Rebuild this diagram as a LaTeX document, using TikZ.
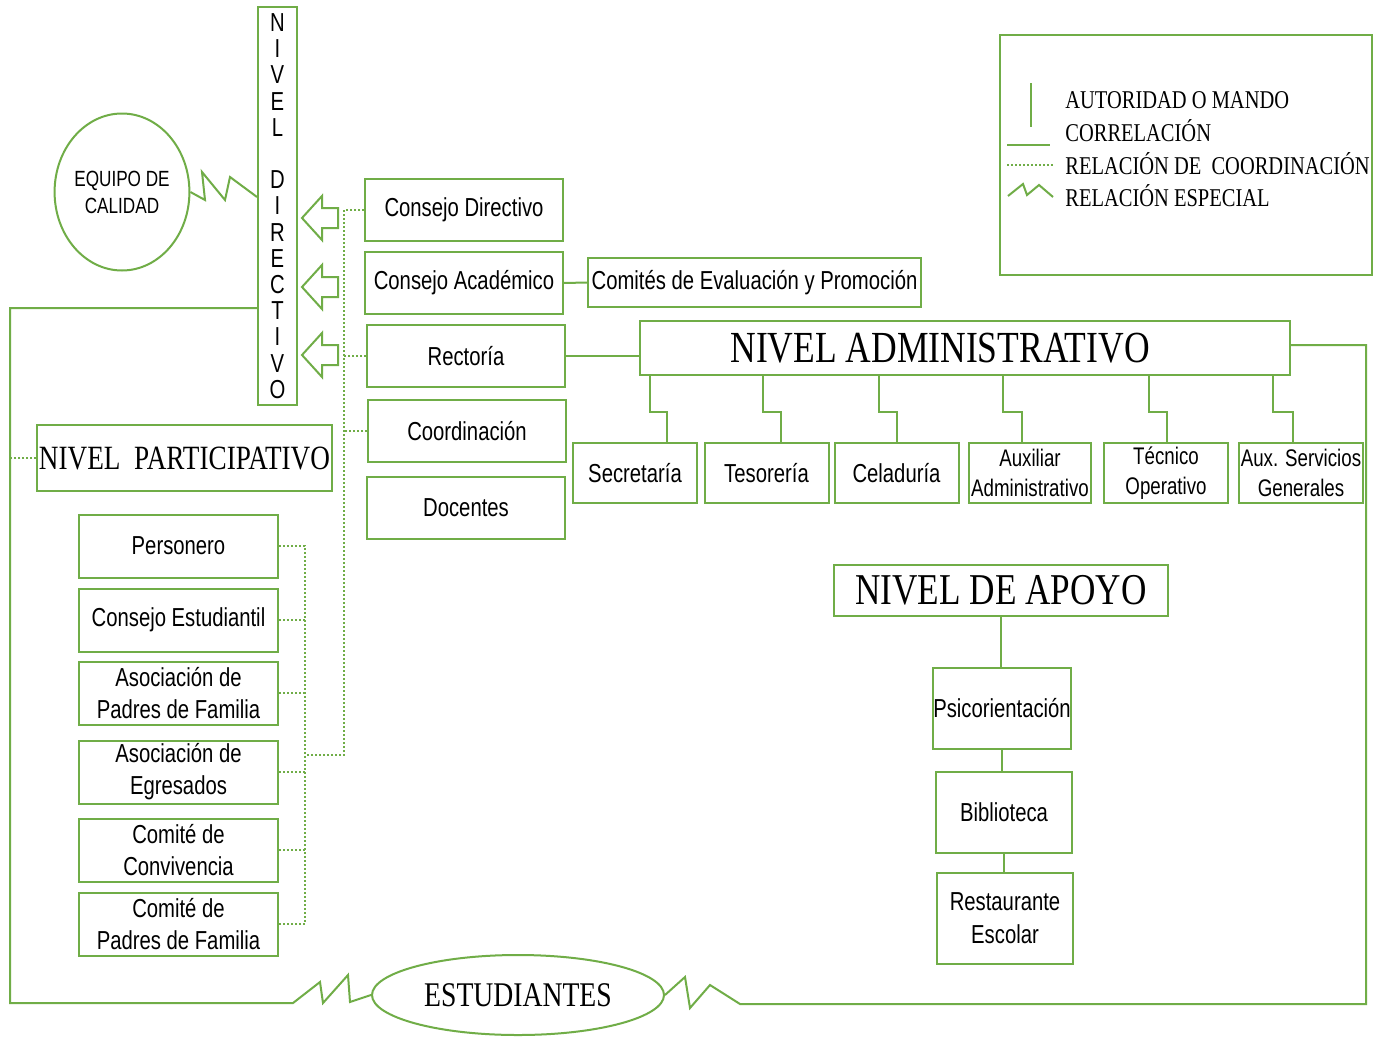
\documentclass[tikz,border=0pt]{standalone}
\usepackage{fontspec}
\setmainfont[FakeStretch=0.78]{Liberation Sans}
\newfontfamily\lvlfont[FakeStretch=0.8]{Liberation Serif}
\usetikzlibrary{shapes.geometric}
\definecolor{verde}{RGB}{112,173,71}

\tikzset{
  caja/.style={draw=verde, line width=1pt, fill=white, align=center, inner sep=1pt, font=\fontsize{13}{16}\selectfont},
  dbox/.style={caja, minimum width=99pt, minimum height=31pt},
  sbox/.style={caja, minimum width=62pt, minimum height=30pt},
  pbox/.style={caja, minimum width=99.5pt, minimum height=31.5pt},
  dos/.style={font=\fontsize{12}{15}\selectfont},
  elip/.style={ellipse, draw=verde, line width=1pt, fill=white, align=center, inner sep=0pt},
  leyenda/.style={anchor=west, inner sep=0pt, font=\lvlfont\fontsize{12.8}{14}\selectfont},
  mando/.style={draw=verde, line width=1pt},
  coord/.style={draw=verde, line width=0.8pt, dash pattern=on 1pt off 1pt},
  hueca/.style={draw=verde, line width=1pt, fill=white}
}

\begin{document}
\begin{tikzpicture}[x=0.5pt,y=-0.5pt]
  \fill[white] (0,0) rectangle (1385,1044);

  \node[caja, minimum width=19.5pt, minimum height=199pt, inner sep=0pt, font=\fontsize{13}{13.1}\selectfont] (dir) at (277.5,206) {N\\I\\V\\E\\L\\[13.1pt]D\\I\\R\\E\\C\\T\\I\\V\\O};
  \node[elip, minimum width=61pt, minimum height=78.5pt, font=\fontsize{11}{13.5}\selectfont] (eq) at (122,192) {EQUIPO DE\\CALIDAD};

  \node[dbox] (cdir) at (464,210) {Consejo Directivo};
  \node[dbox] (cacad) at (464,283) {Consejo Académico};
  \node[dbox] (rect) at (466,356) {Rectoría};
  \node[dbox] (coor) at (467,431) {Coordinación};
  \node[dbox] (doc) at (466,508) {Docentes};
  \node[caja, minimum width=166.5pt, minimum height=24.5pt] (com) at (754.5,282.5) {Comités de Evaluación y Promoción};

  \node[caja, minimum width=325pt, minimum height=27pt, font=\lvlfont\fontsize{22.2}{23}\selectfont] (adm) at (965,348) {NIVEL ADMINISTRATIVO\hspace*{25pt}};
  \node[sbox] (sec) at (635,473) {Secretaría};
  \node[sbox] (tes) at (766.5,473) {Tesorería};
  \node[sbox] (cel) at (896.5,473) {Celaduría};
  \node[sbox, dos, minimum width=61pt] (aux) at (1030,473) {Auxiliar\\Administrativo};
  \node[sbox, dos] (tec) at (1166,473) {Técnico\\Operativo};
  \node[sbox, dos] (gen) at (1301,473) {Aux. Servicios\\Generales};

  \node[caja, minimum width=167pt, minimum height=25.5pt, font=\lvlfont\fontsize{22}{23}\selectfont] (apo) at (1001,590.5) {NIVEL DE APOYO};
  \node[caja, minimum width=68.5pt, minimum height=40.5pt, inner xsep=0pt] (psi) at (1002,708.5) {Psicorientación};
  \node[caja, minimum width=68pt, minimum height=40.5pt] (bib) at (1004,812.5) {Biblioteca};
  \node[caja, minimum width=68pt, minimum height=45.5pt, font=\fontsize{13}{16.5}\selectfont] (res) at (1005,918.5) {Restaurante\\Escolar};

  \node[caja, minimum width=147.5pt, minimum height=33pt, inner xsep=0pt, font=\lvlfont\fontsize{17}{18}\selectfont] (part) at (184.5,458) {NIVEL~~PARTICIPATIVO};
  \node[pbox] (pers) at (178.5,546) {Personero};
  \node[pbox] (cest) at (178.5,620) {Consejo Estudiantil};
  \node[pbox] (apad) at (178.5,693) {Asociación de\\Padres de Familia};
  \node[pbox] (egr) at (178.5,772) {Asociación de\\Egresados};
  \node[pbox] (conv) at (178.5,850) {Comité de\\Convivencia};
  \node[pbox] (cpad) at (178.5,924) {Comité de\\Padres de Familia};

  \node[elip, minimum width=146pt, minimum height=40pt, font=\lvlfont\fontsize{17.3}{18}\selectfont] (est) at (518,995) {ESTUDIANTES};

  \node[draw=verde, line width=1pt, minimum width=186pt, minimum height=120pt] (leg) at (1186,155) {};
  \node[leyenda] (la) at (1065,100) {AUTORIDAD O MANDO};
  \node[leyenda] (lb) at (1065,131) {CORRELACIÓN};
  \node[leyenda] (lc) at (1065,164) {RELACIÓN DE\ \ COORDINACIÓN};
  \node[leyenda] (ld) at (1065,196) {RELACIÓN ESPECIAL};
  \draw[mando] (1031,83) -- (1031,127);
  \draw[mando] (1007,145) -- (1050,145);
  \draw[coord] (1007,165) -- (1053,165);
  \draw[mando] (1008,196) -- (1023,184) -- (1027,195) -- (1039,185) -- (1053,197);

  \draw[mando] (eq.east) -- (205,200) -- (202,172) -- (225,200) -- (230,177) -- (dir.west |- 0,197);
  \foreach \y in {218,287,355}
    \draw[hueca] (302,\y) -- ++(20,-22) -- ++(0,12) -- ++(16,0) -- ++(0,20) -- ++(-16,0) -- ++(0,12) -- cycle;

  \draw[coord] (cdir.west) -| (344,755) -- (305,755);
  \draw[coord] (rect.west) -- (rect.west -| 344,0);
  \draw[coord] (coor.west) -- (coor.west -| 344,0);
  \draw[coord] (pers.east) -- (305,546) -- (305,924) -- (cpad.east);
  \foreach \n in {cest,apad,egr,conv}
    \draw[coord] (\n.east) -- (\n.east -| 305,0);
  \draw[coord] (part.west) -- (10,458);

  \draw[mando] (dir.west |- 0,308) -- (10,308) -- (10,1003) -- (293,1003) -- (320,982) -- (323,1003) -- (348,975) -- (350,1002) -- (est.west);
  \draw[mando] (est.east) -- (685,977) -- (690,1008) -- (710,985) -- (740,1004) -- (1366,1004) -- (1366,345) -- (adm.east |- 0,345);

  \draw[mando] (cacad.east) -- (com.west);
  \draw[mando] (rect.east) -- (rect.east -| adm.west);
  \foreach \n/\u/\l in {sec/650/667, tes/763/781, cel/879/897, aux/1003/1022, tec/1149/1167, gen/1273/1293}
    \draw[mando] (adm.south -| \u,0) -- (\u,412) -- (\l,412) -- (\n.north -| \l,0);
  \draw[mando] (apo.south) -- (apo.south |- psi.north);
  \draw[mando] (psi.south) -- (psi.south |- bib.north);
  \draw[mando] (bib.south) -- (bib.south |- res.north);
\end{tikzpicture}
\end{document}
